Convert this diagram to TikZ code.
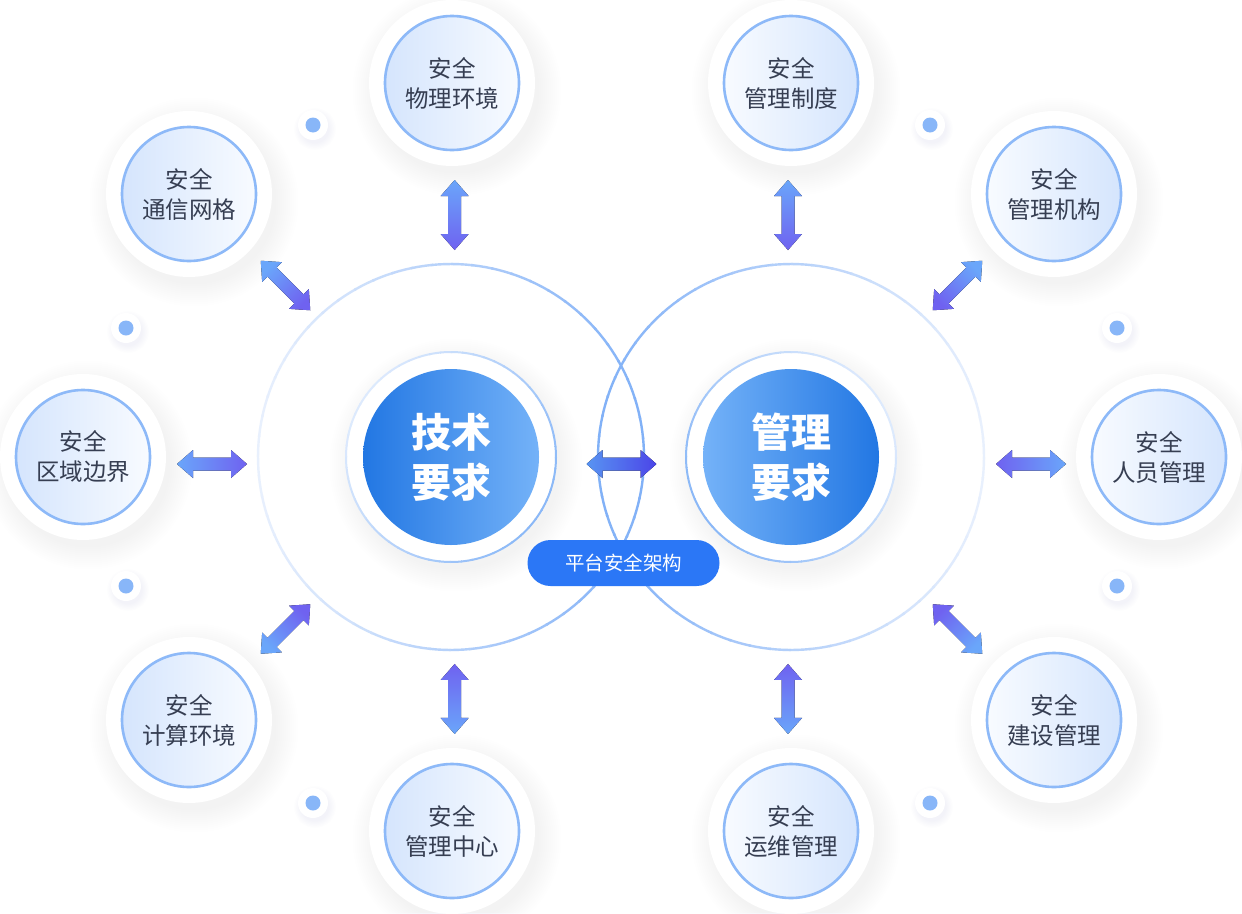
\documentclass[tikz,border=0pt]{standalone}
\usepackage{fontspec}
\newfontfamily\cjk{Noto Sans CJK SC}
\usetikzlibrary{calc}
\definecolor{ringc}{HTML}{8DB9F8}
\definecolor{fillblue}{HTML}{D5E5FD}
\definecolor{fillwhite}{HTML}{F8FBFF}
\definecolor{txt}{HTML}{363E52}
\definecolor{shadowc}{HTML}{C2CDE8}
\definecolor{bigstrong}{HTML}{80B0F7}
\definecolor{bigfaint}{HTML}{E8F0FD}
\definecolor{ringstrong}{HTML}{8AB8F7}
\definecolor{ringfaint}{HTML}{DDEAFD}
\definecolor{cdark}{HTML}{2277E3}
\definecolor{clight}{HTML}{74B2F8}
\definecolor{pillc}{HTML}{2B77F6}
\definecolor{dotc}{HTML}{88B6F8}
\definecolor{arA}{HTML}{6AA6FA}
\definecolor{arB}{HTML}{4A80E0}
\definecolor{arC}{HTML}{6F62F0}
\definecolor{ctrA}{HTML}{5894F2}
\definecolor{ctrB}{HTML}{2F6AD8}
\definecolor{ctrC}{HTML}{4B45E8}

\newcommand{\softshadow}[3]{%
  \foreach \i in {1,...,12}{%
    \fill[shadowc, opacity=0.016] ($(#1)+(5,8)$) circle[radius={#2+\i*#3}];
  }}
\newcommand{\dblarrow}[4]{%
  \begin{scope}[shift={(#1)}, rotate=#2]
    \fill[#4, shading angle=#3] (-35,0) -- (-19,14) -- (-19,6.5) -- (19,6.5) -- (19,14) -- (35,0) -- (19,-14) -- (19,-6.5) -- (-19,-6.5) -- (-19,-14) -- cycle;
  \end{scope}}

\begin{document}
\begin{tikzpicture}[x=1pt,y=-1pt,
  outer/.style={circle, draw=ringc, line width=2.6pt, minimum size=134pt, inner sep=0pt, align=center, text=txt, font=\cjk\fontsize{23.5}{30}\selectfont},
  outerL/.style={outer, left color=fillblue, right color=fillwhite},
  outerR/.style={outer, left color=fillwhite, right color=fillblue},
  core/.style={circle, minimum size=176pt, inner sep=0pt},
  coretext/.style={align=center, font=\cjk\bfseries\fontsize{40}{50}\selectfont},
  pill/.style={rounded corners=23pt, minimum width=192pt, minimum height=46pt, fill=pillc, text=white, inner sep=0pt, font=\cjk\fontsize{19.5}{22}\selectfont},
  arrowshade/.style={top color=arA, middle color=arB, bottom color=arC},
  ctrshade/.style={top color=ctrA, middle color=ctrB, bottom color=ctrC},
]
\fill[white] (0,0) rectangle (1242,913);
\useasboundingbox (0,0) rectangle (1242,913);

% centres
\coordinate (cL) at (451,457);
\coordinate (cR) at (791,457);

% big circles with graded strokes
\foreach \a in {0,6,...,354}{
  \pgfmathtruncatemacro\tval{100*(1+cos(\a+3))/2}
  \draw[line width=2.4pt, draw={bigstrong!\tval!bigfaint}] plot[domain=\a:\a+6.6, samples=4] ({451+193*cos(\x)},{457+193*sin(\x)});
  \pgfmathtruncatemacro\uval{100*(1-cos(\a+3))/2}
  \draw[line width=2.4pt, draw={bigstrong!\uval!bigfaint}] plot[domain=\a:\a+6.6, samples=4] ({791+193*cos(\x)},{457+193*sin(\x)});
}

% outer node positions
\coordinate (pphys) at (452,83);
\coordinate (psysm) at (791,83);
\coordinate (pcomm) at (189,194);
\coordinate (porg) at (1054,194);
\coordinate (parea) at (83,457);
\coordinate (pstaff) at (1159,457);
\coordinate (pcomp) at (189,720);
\coordinate (pbuild) at (1054,720);
\coordinate (pctr) at (452,831);
\coordinate (pops) at (791,831);

% shadows of halos
\foreach \p in {pphys,psysm,pcomm,porg,parea,pstaff,pcomp,pbuild,pctr,pops}{
  \softshadow{\p}{80}{2}
}
\softshadow{cL}{102}{2}
\softshadow{cR}{102}{2}

% dot shadows
\foreach \d in {(313,125),(930,125),(126,328),(1117,328),(126,586),(1117,586),(313,803),(930,803)}{
  \foreach \i in {1,...,6}{
    \fill[shadowc, opacity=0.03] \d ++(2,4) circle[radius={13+\i*1.3}];
  }
}

% halos
\foreach \p in {pphys,psysm,pcomm,porg,parea,pstaff,pcomp,pbuild,pctr,pops}{
  \fill[white] (\p) circle[radius=83];
}
\foreach \d in {(313,125),(930,125),(126,328),(1117,328),(126,586),(1117,586),(313,803),(930,803)}{
  \fill[white] \d circle[radius=15];
  \fill[dotc] \d circle[radius=7.5];
}

% inner white rings
\fill[white] (cL) circle[radius=105];
\fill[white] (cR) circle[radius=105];
\foreach \a in {0,6,...,354}{
  \pgfmathtruncatemacro\tval{100*(1+cos(\a+3-30))/2}
  \draw[line width=2pt, draw={ringstrong!\tval!ringfaint}] plot[domain=\a:\a+6.6, samples=4] ({451+105*cos(\x)},{457+105*sin(\x)});
  \pgfmathtruncatemacro\uval{100*(1+cos(\a+3-150))/2}
  \draw[line width=2pt, draw={ringstrong!\uval!ringfaint}] plot[domain=\a:\a+6.6, samples=4] ({791+105*cos(\x)},{457+105*sin(\x)});
}

% core discs
\node[core, left color=cdark, right color=clight] (tech) at (cL) {};
\node[core, left color=clight, right color=cdark] (mgmt) at (cR) {};
\node[coretext, text=white] (techt) at (tech) {技术\\要求};
\node[coretext, text=white] (mgmtt) at (mgmt) {管理\\要求};

% outer nodes
\node[outerL] (phys) at (pphys) {安全\\物理环境};
\node[outerR] (sysm) at (psysm) {安全\\管理制度};
\node[outerL] (comm) at (pcomm) {安全\\通信网格};
\node[outerR] (org) at (porg) {安全\\管理机构};
\node[outerL] (area) at (parea) {安全\\区域边界};
\node[outerR] (staff) at (pstaff) {安全\\人员管理};
\node[outerL] (comp) at (pcomp) {安全\\计算环境};
\node[outerR] (build) at (pbuild) {安全\\建设管理};
\node[outerL] (ctr) at (pctr) {安全\\管理中心};
\node[outerR] (ops) at (pops) {安全\\运维管理};

% arrow positions between nodes
\coordinate (a1) at ($(phys)!0.353!(tech)+(3,0)$);
\coordinate (a2) at ($(sysm)!0.353!(mgmt)+(-3,0)$);
\coordinate (a3) at ($(ctr)!0.353!(tech)+(3,0)$);
\coordinate (a4) at ($(ops)!0.353!(mgmt)+(-3,0)$);
\coordinate (a5) at (212,464);
\coordinate (a6) at (1031,464);
\coordinate (a7) at (621.5,464);
\coordinate (a8) at (285.5,285.5);
\coordinate (a9) at (957.5,285.5);
\coordinate (a10) at (285.5,629);
\coordinate (a11) at (957.5,629);

\dblarrow{a1}{90}{0}{arrowshade}
\dblarrow{a2}{90}{0}{arrowshade}
\dblarrow{a3}{90}{180}{arrowshade}
\dblarrow{a4}{90}{180}{arrowshade}
\dblarrow{a5}{0}{90}{arrowshade}
\dblarrow{a6}{0}{-90}{arrowshade}
\dblarrow{a7}{0}{90}{ctrshade}
\dblarrow{a8}{-45}{45}{arrowshade}
\dblarrow{a9}{45}{-45}{arrowshade}
\dblarrow{a10}{45}{135}{arrowshade}
\dblarrow{a11}{-45}{225}{arrowshade}

% pill label
\node[pill] (plat) at (623.5,563) {平台安全架构};
\end{tikzpicture}
\end{document}
